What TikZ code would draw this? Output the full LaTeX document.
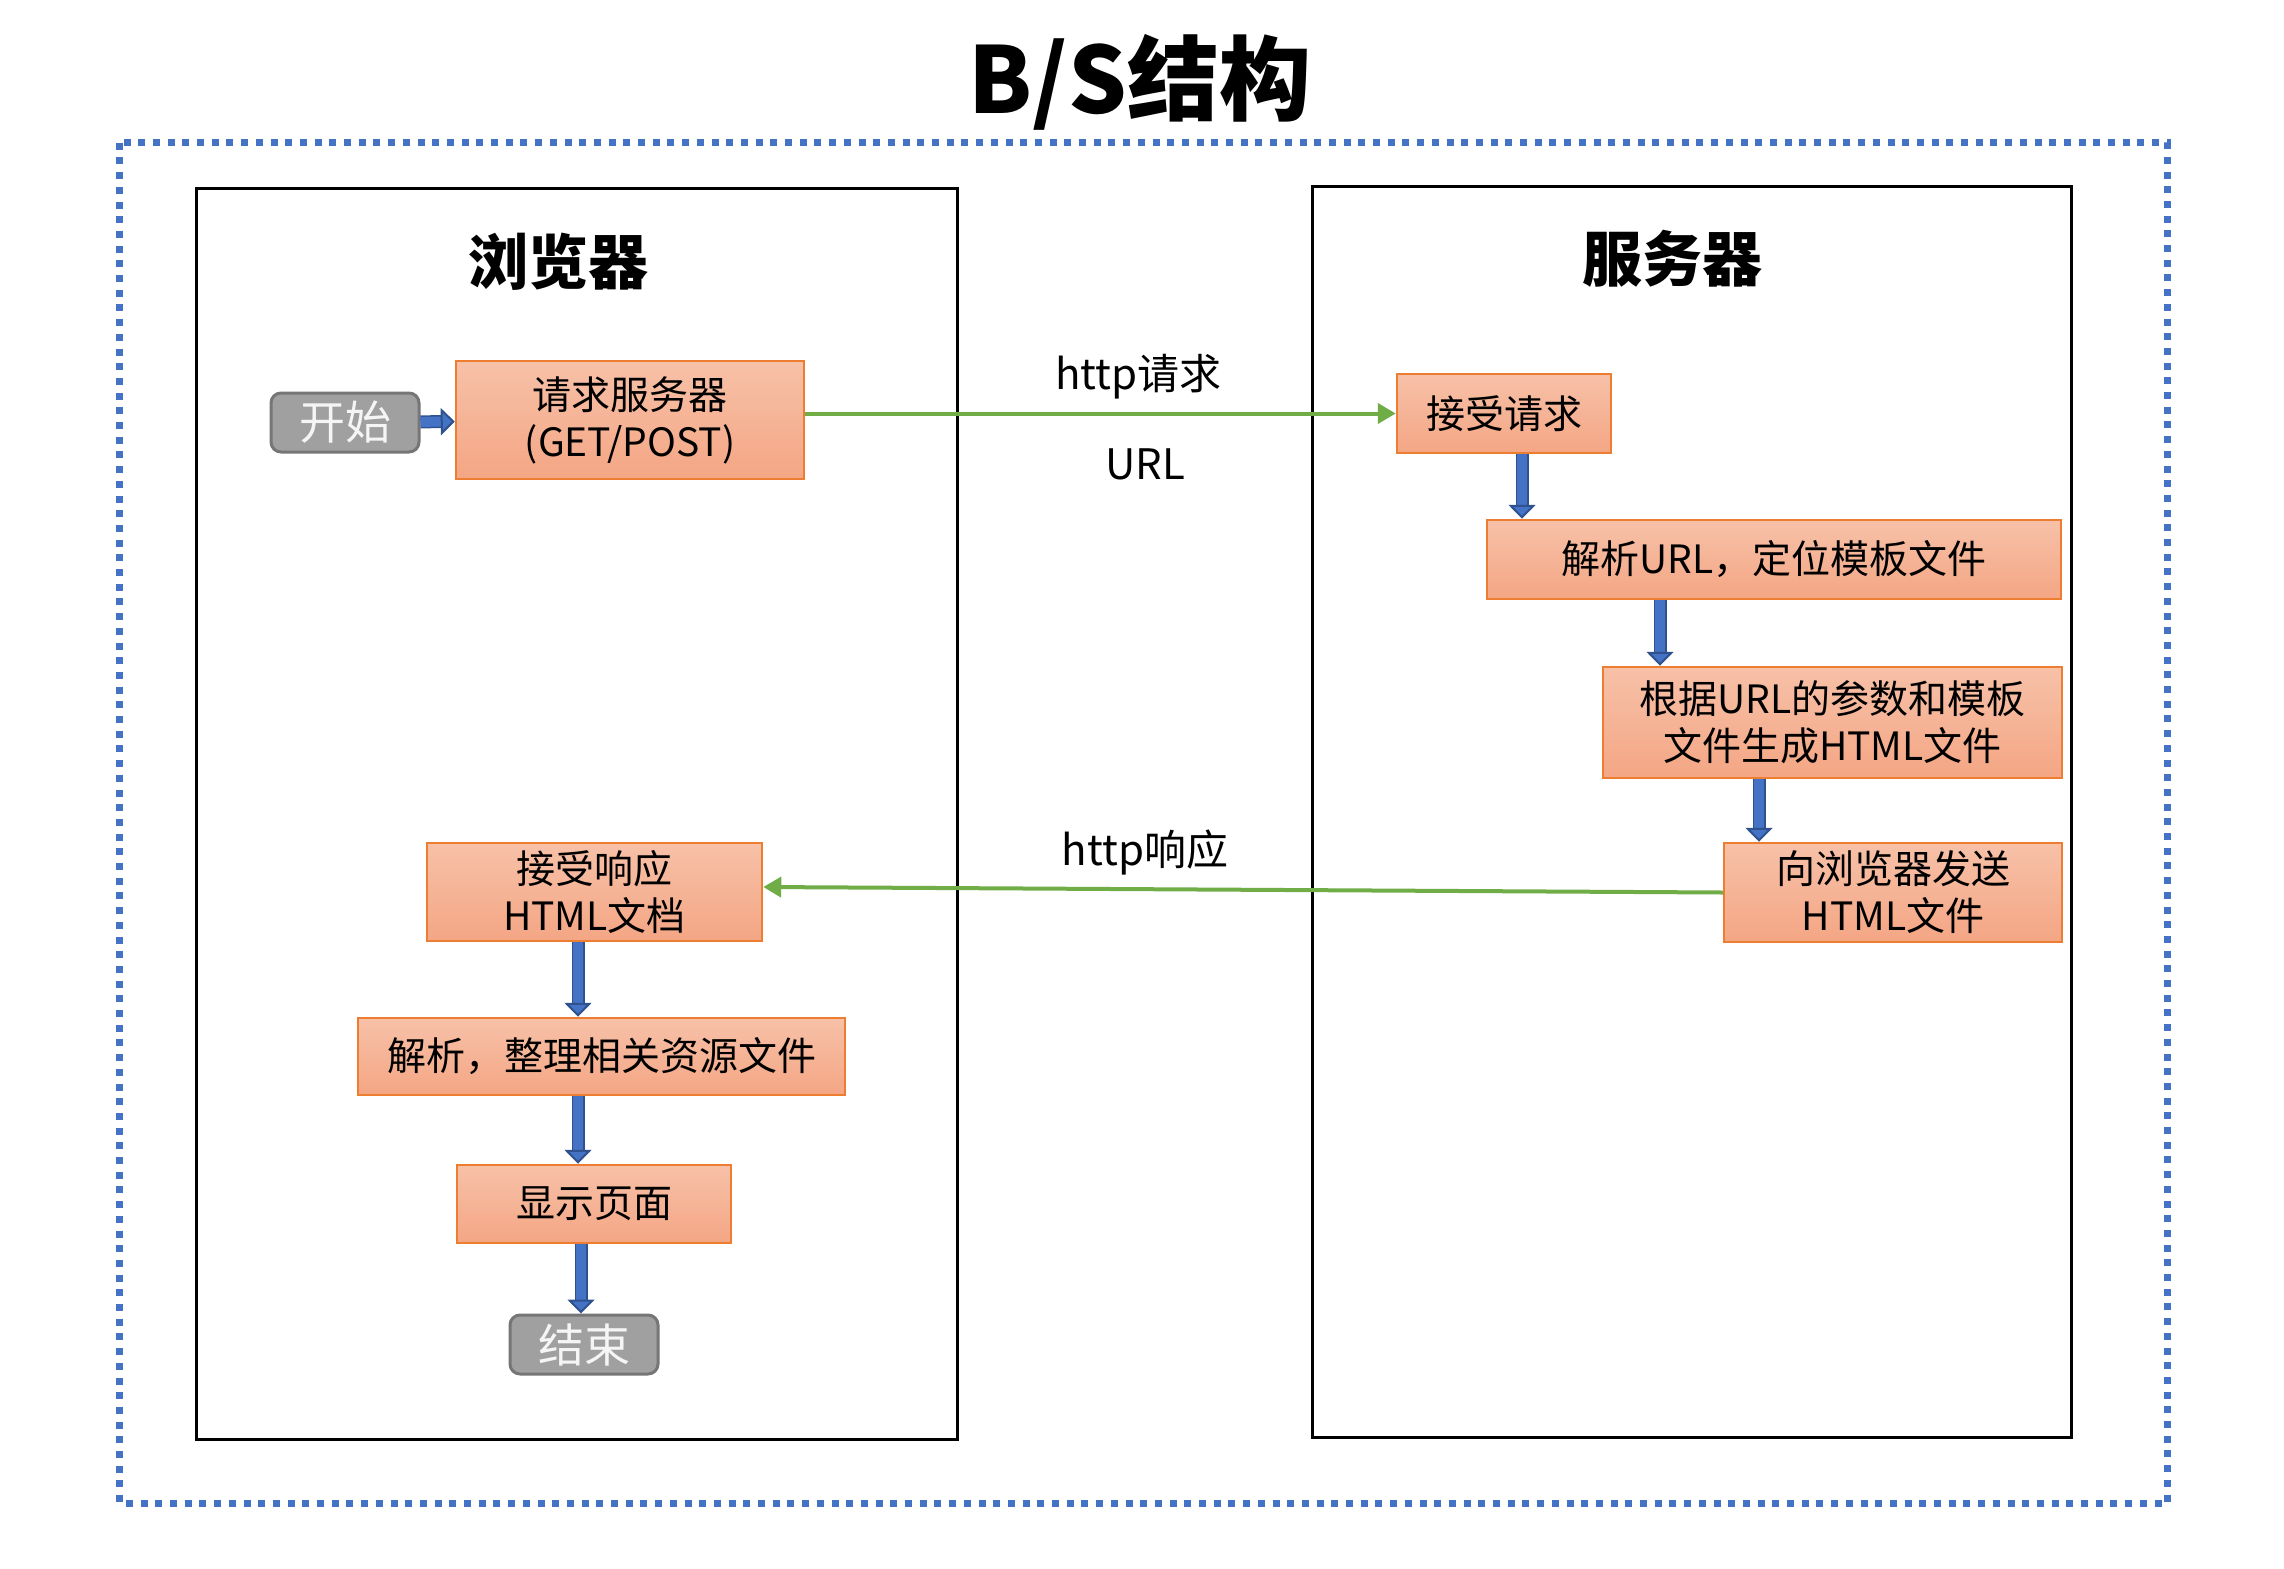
\documentclass[tikz,border=0pt]{standalone}
\usepackage{fontspec}
\setmainfont{Noto Sans CJK SC}
\usetikzlibrary{arrows.meta}

\definecolor{boxedge}{RGB}{237,125,49}
\definecolor{boxtop}{RGB}{247,193,168}
\definecolor{boxbot}{RGB}{244,166,132}
\definecolor{termfill}{RGB}{160,160,160}
\definecolor{termedge}{RGB}{118,118,118}
\definecolor{termtext}{RGB}{245,245,245}
\definecolor{arrowblue}{RGB}{68,114,196}
\definecolor{arrowdark}{RGB}{47,82,143}
\definecolor{linkgreen}{RGB}{112,173,71}
\definecolor{frameblue}{RGB}{68,114,196}

\begin{document}
\begin{tikzpicture}[x=1pt,y=-1pt,
  sz/.style 2 args={minimum width=#1pt, minimum height=#2pt},
  box/.style={draw=boxedge, line width=2.5pt, top color=boxtop, bottom color=boxbot,
    inner sep=0pt, align=center, text=black, font=\fontsize{39}{47}\selectfont},
  term/.style={draw=termedge, line width=3pt, fill=termfill, rounded corners=10pt,
    inner sep=0pt, text=termtext, font=\fontsize{46}{50}\selectfont},
  panel/.style={draw=black, line width=3pt, inner sep=0pt},
  heading/.style={font=\bfseries\fontsize{60}{64}\selectfont, inner sep=0pt},
  label/.style={font=\fontsize{42}{46}\selectfont, inner sep=0pt},
  flow/.style={draw=arrowblue, line width=10pt,
    -{Triangle[width=27pt,length=14pt,line width=2pt,fill=arrowblue,color=arrowdark]},
    preaction={draw=arrowdark, line width=13pt, arrows=-, shorten >=12pt}},
  link/.style={draw=linkgreen, line width=4pt, -{Triangle[width=20pt,length=18pt]}}
]
\useasboundingbox (0,0) rectangle (2284,1569);
\fill[white] (0,0) rectangle (2284,1569);

% title and outer frame
\node[font=\bfseries\fontsize{92}{96}\selectfont, inner sep=0pt] (title) at (1140,82) {B/S结构};
\draw[frameblue, line width=7pt, dash pattern=on 7pt off 7.7pt] (119.4,142.7) rectangle (2167.4,1503.3);

% two sides
\node[panel, sz={760.4}{1251}] (browser) at (576.8,813.5) {};
\node[panel, sz={759}{1251.3}] (server) at (1691.9,812.1) {};
\node[heading] (bhead) at (558,262) {浏览器};
\node[heading] (shead) at (1672,259) {服务器};

% browser steps
\node[term, sz={148}{59}] (start) at (345,422.5) {开始};
\node[box, sz={348}{118}] (req) at (630,420) {请求服务器\\(GET/POST)};
\node[box, sz={335}{98}] (recv) at (594.5,892) {接受响应\\HTML文档};
\node[box, sz={487}{77}] (tidy) at (601.5,1056.5) {解析，整理相关资源文件};
\node[box, sz={274}{78}] (show) at (594,1204) {显示页面};
\node[term, sz={148}{59}] (stop) at (584,1344.5) {结束};

% server steps
\node[box, sz={214}{79}] (acc) at (1504,413.5) {接受请求};
\node[box, sz={574}{79}] (parse) at (1774,559.5) {解析URL，定位模板文件};
\node[box, sz={459}{111}] (gen) at (1832.5,722.5) {根据URL的参数和模板\\文件生成HTML文件};
\node[box, sz={338}{99}] (send) at (1893,892.5) {向浏览器发送\\HTML文件};

% labels on the links
\node[label] (lreq) at (1138.5,377) {http请求};
\node[label] (lurl) at (1145,464) {URL};
\node[label] (lres) at (1145,852) {http响应};

% step arrows
\draw[flow] (start) -- (req);
\draw[flow] ([xshift=18pt]acc.south) -- ([xshift=18pt]acc.south |- parse.north);
\draw[flow] ([xshift=-114pt]parse.south) -- ([xshift=-114pt]parse.south |- gen.north);
\draw[flow] ([xshift=-73.5pt]gen.south) -- ([xshift=-73.5pt]gen.south |- send.north);
\draw[flow] ([xshift=-16.5pt]recv.south) -- ([xshift=-16.5pt]recv.south |- tidy.north);
\draw[flow] ([xshift=-23.5pt]tidy.south) -- ([xshift=-23.5pt]tidy.south |- show.north);
\draw[flow] ([xshift=-13pt]show.south) -- ([xshift=-13pt]show.south |- stop.north);

% http links
\draw[link] (acc.west -| req.east) -- (acc.west);
\draw[link] (send.west) -- ([yshift=5pt]recv.east);
\end{tikzpicture}
\end{document}
